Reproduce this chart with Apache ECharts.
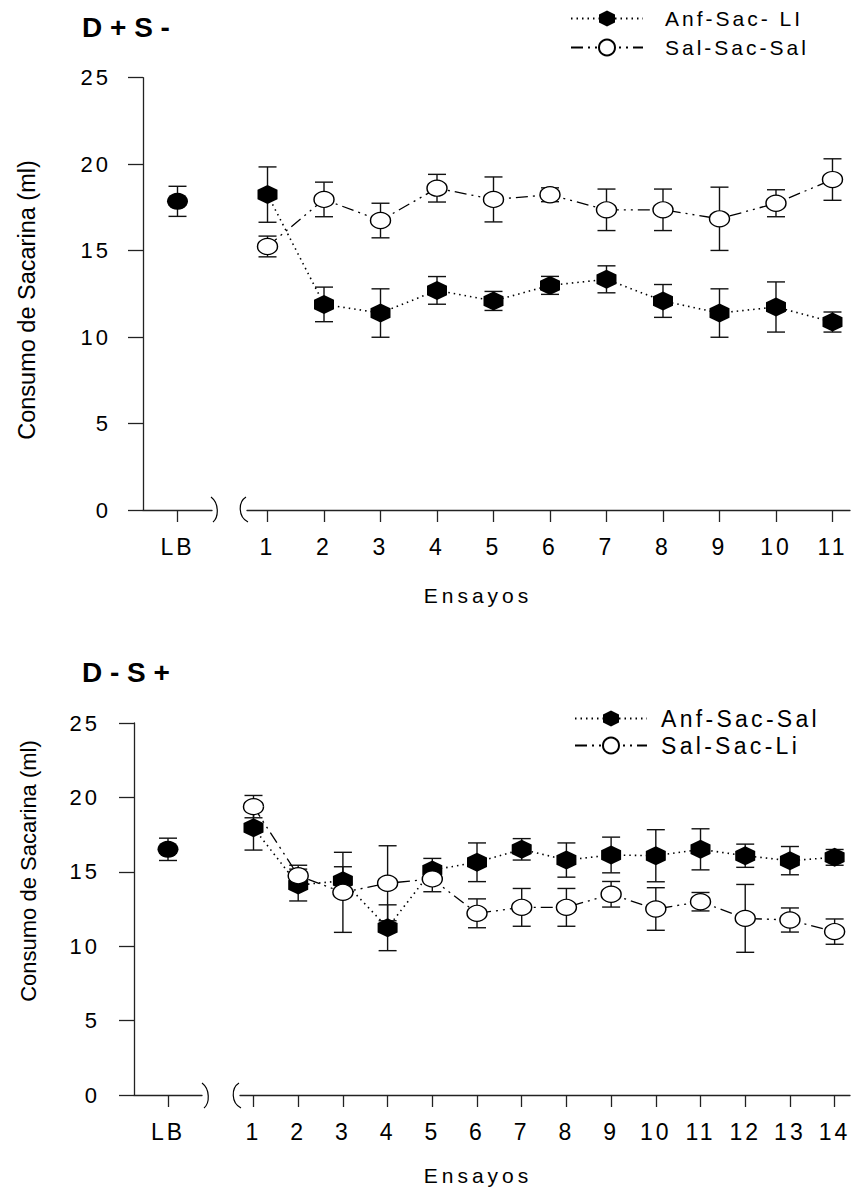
<!DOCTYPE html>
<html>
<head>
<meta charset="utf-8">
<script src="https://cdn.jsdelivr.net/npm/echarts@6/dist/echarts.min.js"></script>
<style>
html,body{margin:0;padding:0;background:#fff;}
#c{width:851px;height:1191px;}
text[style*="spA"],text[font-family*="spA"]{letter-spacing:3px;}
text[style*="spB"],text[font-family*="spB"]{letter-spacing:4px;}
text[style*="spC"],text[font-family*="spC"]{letter-spacing:3.3px;}
</style>
</head>
<body>
<div id="c"></div>
<script>
// ---------- DATA ----------
const lbCategory = ['LB'];

// Top panel: D+S-
const topEnsayos = [1, 2, 3, 4, 5, 6, 7, 8, 9, 10, 11];
const topLBMean = [17.85];
const topLBErr = [0.87];
const topAnfMean = [18.24, 11.89, 11.39, 12.70, 12.09, 12.99, 13.34, 12.09, 11.39, 11.74, 10.87];
const topAnfErr  = [1.6, 1.0, 1.4, 0.8, 0.55, 0.52, 0.78, 0.95, 1.4, 1.45, 0.58];
const topSalMean = [15.24, 17.96, 16.74, 18.61, 17.96, 18.23, 17.36, 17.36, 16.84, 17.74, 19.11];
const topSalErr  = [0.6, 1.0, 1.0, 0.8, 1.3, 0.4, 1.2, 1.2, 1.83, 0.78, 1.2];

// Bottom panel: D-S+
const botEnsayos = [1, 2, 3, 4, 5, 6, 7, 8, 9, 10, 11, 12, 13, 14];
const botLBMean = [16.51];
const botLBErr = [0.75];
const botAnfMean = [17.96, 14.11, 14.40, 11.24, 15.12, 15.64, 16.51, 15.79, 16.13, 16.08, 16.51, 16.08, 15.75, 15.97];
const botAnfErr  = [1.5, 1.07, 0.94, 1.54, 0.78, 1.3, 0.72, 1.15, 1.2, 1.75, 1.38, 0.78, 0.95, 0.53];
const botSalMean = [19.38, 14.74, 13.62, 14.23, 14.52, 12.21, 12.61, 12.61, 13.49, 12.50, 12.99, 11.87, 11.76, 10.98];
const botSalErr  = [0.75, 0.7, 2.69, 2.52, 0.86, 0.97, 1.27, 1.27, 0.86, 1.43, 0.62, 2.28, 0.81, 0.85];

const topNames = ['Anf-Sac- LI', 'Sal-Sac-Sal'];
const botNames = ['Anf-Sac-Sal', 'Sal-Sac-Li'];
const yName = 'Consumo de Sacarina (ml)';
const xName = 'Ensayos';

// ---------- STYLE ----------
const FAM = 'Liberation Sans';
const SPA = 'Liberation Sans, spA';
const SPB = 'Liberation Sans, spB';
const SPC = 'Liberation Sans, spC';
const AX = {color: '#222', width: 1.3};
const HEX = 'path://M0,-10 L9,-5 L9,5 L0,10 L-9,5 L-9,-5 Z';

function pairs(xs, ys) { return xs.map((x, i) => [x, ys[i]]); }
function triples(xs, ys, es) { return xs.map((x, i) => [x, ys[i], es[i]]); }

function errRender(params, api) {
  const x = api.value(0), y = api.value(1), e = api.value(2);
  const p1 = api.coord([x, y + e]);
  const p2 = api.coord([x, y - e]);
  const hw = 9;
  const st = {stroke: '#111', lineWidth: 1.4};
  return {type: 'group', children: [
    {type: 'line', shape: {x1: p1[0], y1: p1[1], x2: p2[0], y2: p2[1]}, style: st},
    {type: 'line', shape: {x1: p1[0] - hw, y1: p1[1], x2: p1[0] + hw, y2: p1[1]}, style: st},
    {type: 'line', shape: {x1: p2[0] - hw, y1: p2[1], x2: p2[0] + hw, y2: p2[1]}, style: st}
  ]};
}

function yAxisMain(grid, margin) {
  return {
    gridIndex: grid, type: 'value', min: 0, max: 25, interval: 5,
    axisLine: {show: true, lineStyle: AX},
    axisTick: {show: true, length: 15, lineStyle: AX},
    axisLabel: {margin: margin, fontSize: 22, color: '#000', fontFamily: SPA},
    splitLine: {show: false}
  };
}
function yAxisHidden(grid) {
  return {gridIndex: grid, type: 'value', min: 0, max: 25, show: false};
}
function xAxisLB(grid, margin) {
  return {
    gridIndex: grid, type: 'category', data: lbCategory, boundaryGap: true,
    axisLine: {show: true, onZero: false, lineStyle: AX},
    axisTick: {show: true, alignWithLabel: true, length: 12, lineStyle: AX},
    axisLabel: {margin: margin, fontSize: 23, color: '#000', fontFamily: SPA},
    splitLine: {show: false}
  };
}
function xAxisTrials(grid, min, max, vals, margin) {
  return {
    gridIndex: grid, type: 'value', min: min, max: max,
    axisLine: {show: true, onZero: false, lineStyle: AX},
    axisTick: {show: true, length: 12, lineStyle: AX, customValues: vals},
    axisLabel: {customValues: vals, margin: margin, fontSize: 23, color: '#000', fontFamily: SPA},
    splitLine: {show: false}
  };
}

function anfSeries(name, xi, data) {
  return {
    type: 'line', name: name, xAxisIndex: xi, yAxisIndex: xi, data: data,
    symbol: HEX, symbolSize: [20, 19], showAllSymbol: true,
    itemStyle: {color: '#000', opacity: 1},
    lineStyle: {color: '#000', width: 1.6, type: [1.5, 4]},
    z: 3, animation: false, silent: true
  };
}
function salSeries(name, xi, data) {
  return {
    type: 'line', name: name, xAxisIndex: xi, yAxisIndex: xi, data: data,
    symbol: 'circle', symbolSize: [20, 16], showAllSymbol: true,
    itemStyle: {color: '#fff', borderColor: '#000', borderWidth: 1.3, opacity: 1},
    lineStyle: {color: '#000', width: 1.3, type: [12, 5, 2, 5, 2, 5]},
    z: 4, animation: false, silent: true
  };
}
function errSeries(xi, data) {
  return {
    type: 'custom', xAxisIndex: xi, yAxisIndex: xi, data: data,
    renderItem: errRender, encode: {x: 0, y: 1}, z: 1, silent: true, animation: false
  };
}
function lbSeries(xi, data) {
  return {
    type: 'scatter', name: 'LB', xAxisIndex: xi, yAxisIndex: xi, data: data,
    symbol: 'circle', symbolSize: [21, 17], itemStyle: {color: '#000', opacity: 1},
    z: 3, silent: true, animation: false
  };
}
function yNameText(x, y, size) {
  return {type: 'text', x: x, y: y, rotation: Math.PI / 2,
    style: {text: yName, fontSize: size, fontFamily: FAM, fill: '#000', textAlign: 'center', textVerticalAlign: 'middle'}};
}

const option = {
  backgroundColor: '#fff',
  animation: false,
  title: [
    {text: 'D + S -', left: 77, top: 8, padding: 5,
     textStyle: {fontSize: 28, fontWeight: 'bold', fontFamily: FAM, color: '#000'}},
    {text: 'D - S +', left: 77, top: 653, padding: 5,
     textStyle: {fontSize: 28, fontWeight: 'bold', fontFamily: FAM, color: '#000'}}
  ],
  legend: [
    {data: topNames, orient: 'vertical', left: 565, top: 3, itemWidth: 72, itemHeight: 20, itemGap: 8,
     selectedMode: false,
     textStyle: {fontSize: 21, fontFamily: SPA, color: '#000', padding: [0, 0, 0, 17]}},
    {data: botNames, orient: 'vertical', left: 569, top: 702, itemWidth: 72, itemHeight: 20, itemGap: 4,
     selectedMode: false,
     textStyle: {fontSize: 23, fontFamily: SPC, color: '#000', padding: [0, 0, 0, 9]}}
  ],
  grid: [
    {left: 143, top: 77.7, width: 69, height: 432.3},
    {left: 247, top: 77.7, width: 603, height: 432.3},
    {left: 134, top: 723, width: 68, height: 372},
    {left: 240, top: 723, width: 610, height: 372}
  ],
  xAxis: [
    xAxisLB(0, 25),
    xAxisTrials(1, 0.637, 11.31, topEnsayos, 25),
    xAxisLB(2, 25),
    xAxisTrials(3, 0.698, 14.344, botEnsayos, 25)
  ],
  yAxis: [
    yAxisMain(0, 32),
    yAxisHidden(1),
    yAxisMain(2, 34),
    yAxisHidden(3)
  ],
  series: [
    errSeries(0, triples(lbCategory, topLBMean, topLBErr)),
    lbSeries(0, pairs(lbCategory, topLBMean)),
    errSeries(1, triples(topEnsayos, topAnfMean, topAnfErr)),
    errSeries(1, triples(topEnsayos, topSalMean, topSalErr)),
    anfSeries(topNames[0], 1, pairs(topEnsayos, topAnfMean)),
    salSeries(topNames[1], 1, pairs(topEnsayos, topSalMean)),

    errSeries(2, triples(lbCategory, botLBMean, botLBErr)),
    lbSeries(2, pairs(lbCategory, botLBMean)),
    errSeries(3, triples(botEnsayos, botAnfMean, botAnfErr)),
    errSeries(3, triples(botEnsayos, botSalMean, botSalErr)),
    anfSeries(botNames[0], 3, pairs(botEnsayos, botAnfMean)),
    salSeries(botNames[1], 3, pairs(botEnsayos, botSalMean))
  ],
  graphic: [
    yNameText(27, 300, 23.5),
    yNameText(28, 871, 22),
    {type: 'text', x: 478, y: 595,
     style: {text: xName, fontSize: 21, fontFamily: SPB, fill: '#000', textAlign: 'center', textVerticalAlign: 'middle'}},
    {type: 'text', x: 478, y: 1175,
     style: {text: xName, fontSize: 21, fontFamily: SPB, fill: '#000', textAlign: 'center', textVerticalAlign: 'middle'}},
    // axis break marks (decoration)
    {type: 'bezierCurve', shape: {x1: 211, y1: 497, cpx1: 219, cpy1: 503, cpx2: 219, cpy2: 517, x2: 213, y2: 522},
     style: {stroke: '#000', lineWidth: 1.2, fill: null}},
    {type: 'bezierCurve', shape: {x1: 246, y1: 497, cpx1: 238, cpy1: 502, cpx2: 238, cpy2: 517, x2: 248, y2: 522},
     style: {stroke: '#000', lineWidth: 1.2, fill: null}},
    {type: 'bezierCurve', shape: {x1: 202, y1: 1083, cpx1: 210, cpy1: 1089, cpx2: 210, cpy2: 1103, x2: 204, y2: 1108},
     style: {stroke: '#000', lineWidth: 1.2, fill: null}},
    {type: 'bezierCurve', shape: {x1: 239, y1: 1083, cpx1: 231, cpy1: 1088, cpx2: 231, cpy2: 1103, x2: 241, y2: 1108},
     style: {stroke: '#000', lineWidth: 1.2, fill: null}}
  ]
};

const chart = echarts.init(document.getElementById('c'), null, {renderer: 'svg', width: 851, height: 1191});
chart.setOption(option);
</script>
</body>
</html>
